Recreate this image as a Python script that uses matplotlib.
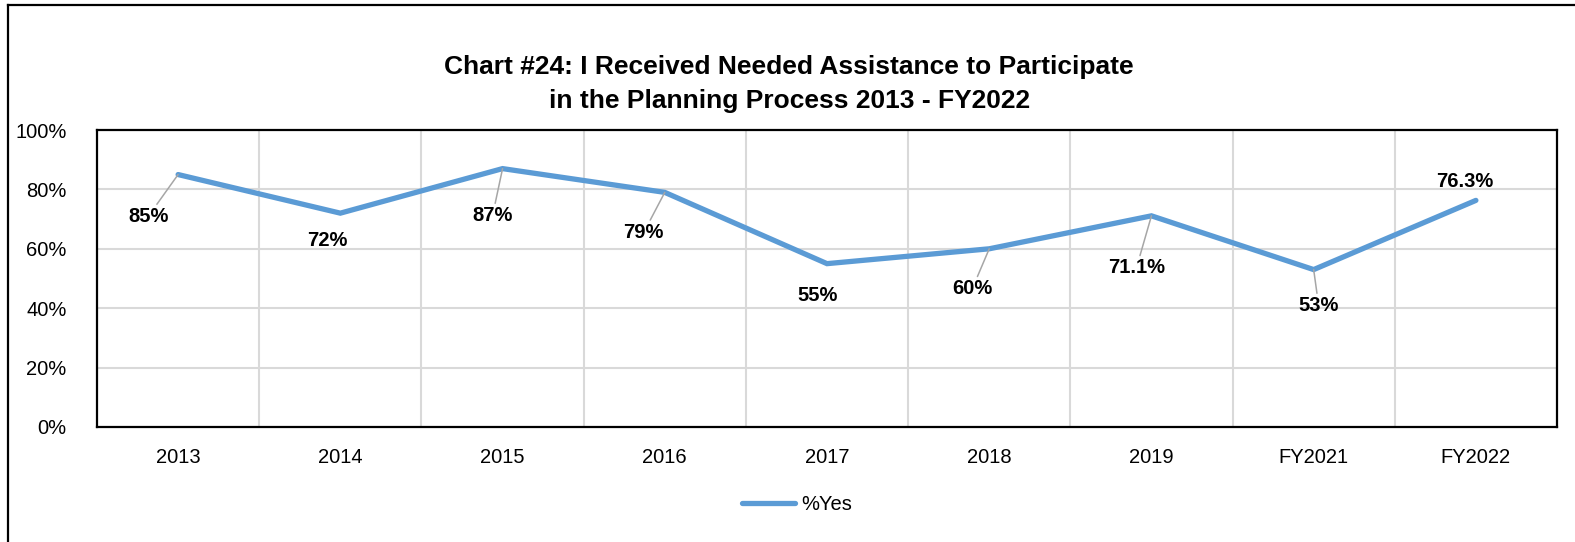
import matplotlib

matplotlib.use("Agg")
import matplotlib.pyplot as plt
from matplotlib.lines import Line2D

# ----- data ------------------------------------------------------------------
years = ["2013", "2014", "2015", "2016", "2017", "2018", "2019", "FY2021", "FY2022"]
pct_yes = [85, 72, 87, 79, 55, 60, 71.1, 53, 76.3]
point_labels = ["85%", "72%", "87%", "79%", "55%", "60%", "71.1%", "53%", "76.3%"]
y_ticks = [0, 20, 40, 60, 80, 100]

# label offsets (pixels) and whether Excel drew a leader line
label_offsets = [(-30, -42), (-13, -27), (-10, -47), (-21, -40), (-9, -32),
                 (-17, -40), (-15, -52), (5, -36), (-11, 19)]
has_leader = [True, False, True, True, False, True, True, True, False]

NARROW = ["Liberation Sans Narrow", "Arial Narrow", "Liberation Sans", "DejaVu Sans"]
BLUE = "#5B9BD5"
GRID = "#D9D9D9"

fig = plt.figure(figsize=(15.75, 5.42), dpi=100)
ax = fig.add_axes([97 / 1575, 1 - 427 / 542, 1460 / 1575, 297 / 542])

x = list(range(len(years)))
ax.plot(x, pct_yes, color=BLUE, linewidth=3.8, solid_capstyle="round",
        solid_joinstyle="miter", label="%Yes", zorder=3)

for xi, v, txt, off, lead in zip(x, pct_yes, point_labels, label_offsets, has_leader):
    ax.annotate(txt, xy=(xi, v), xytext=off, textcoords="offset pixels",
                ha="center", va="center", fontsize=14.5, fontweight="bold",
                family=NARROW, color="black", zorder=4,
                arrowprops=dict(arrowstyle="-", color="#A6A6A6", lw=1.1,
                                shrinkA=0, shrinkB=0) if lead else None)

ax.set_xlim(-0.5, len(years) - 0.5)
ax.set_ylim(0, 100)
ax.set_xticks(x)
ax.set_xticklabels(years, family=NARROW, fontsize=14.5)
ax.set_yticks(y_ticks)
ax.set_yticklabels([f"{t}%" for t in y_ticks], family=NARROW, fontsize=14.5)
ax.tick_params(length=0, pad=15)
ax.tick_params(axis="y", pad=22)

# gridlines: horizontal at ticks, vertical at category boundaries
for t in y_ticks[1:-1]:
    ax.axhline(t, color=GRID, lw=1.5, zorder=1)
for b in range(1, len(years)):
    ax.axvline(b - 0.5, color=GRID, lw=1.5, zorder=1)

for s in ax.spines.values():
    s.set_color("black")
    s.set_linewidth(1.6)

fig.text(0.501, 1 - 84 / 542,
         "Chart #24: I Received Needed Assistance to Participate\nin the Planning Process 2013 - FY2022",
         ha="center", va="center", fontsize=19, fontweight="bold", family=NARROW,
         linespacing=1.5)

fig.legend(loc="center", bbox_to_anchor=(797 / 1575, 1 - 505 / 542), frameon=False,
           prop={"family": NARROW, "size": 14.5}, handlelength=2.6, handletextpad=0.3)

# outer chart border (right and bottom edges fall outside the image)
fig.add_artist(Line2D([8 / 1575, 8 / 1575], [-0.05, 1 - 5 / 542], color="black", lw=1.6))
fig.add_artist(Line2D([8 / 1575, 1.05], [1 - 5 / 542, 1 - 5 / 542], color="black", lw=1.6))

fig.savefig("out.png", dpi=100, facecolor="white")
